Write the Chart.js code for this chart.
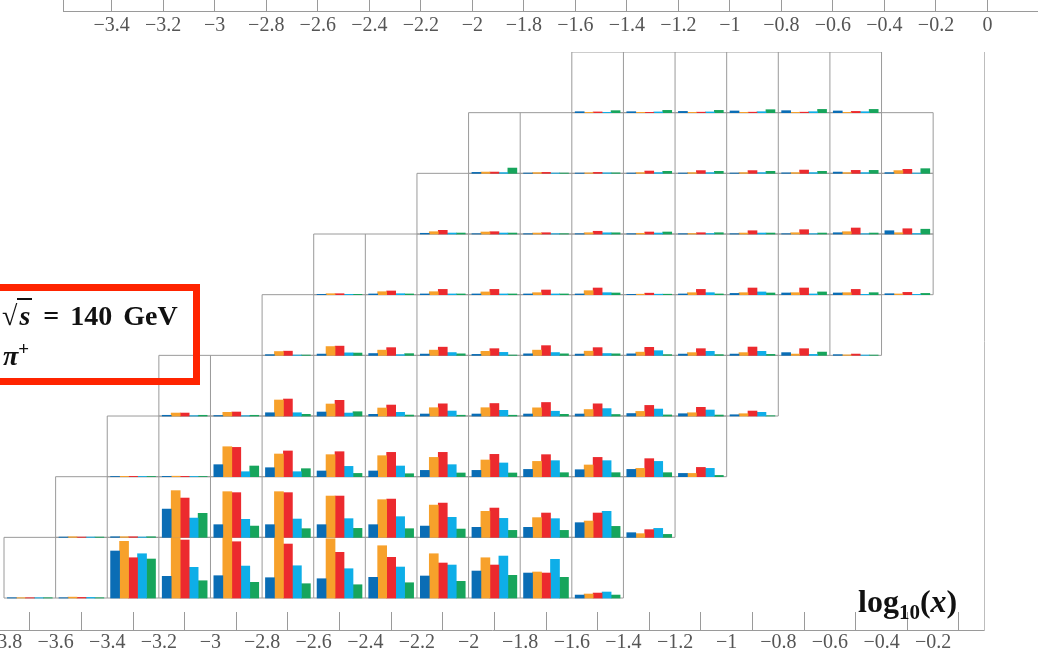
<!DOCTYPE html>
<html>
<head>
<meta charset="utf-8">
<script src="https://cdn.jsdelivr.net/npm/chart.js@4.4.1/dist/chart.umd.min.js"></script>
<style>
  html, body { margin: 0; padding: 0; background: #fff; }
  #wrap { position: relative; width: 1038px; height: 656px; overflow: hidden; }
  #mainChart, #topAxis { position: absolute; left: 0; top: 0; }
  .infoBox {
    position: absolute; left: -12px; top: 284px; width: 198px; height: 87px;
    border: 7px solid #ff2400; font-family: 'Liberation Serif', serif; font-weight: bold; color: #111;
  }
  .infoBox .l1 { position: absolute; left: 7px; top: 9px; font-size: 28px; word-spacing: 4px; white-space: nowrap; }
  .infoBox .l2 { position: absolute; left: 8px; top: 47px; font-size: 28px; white-space: nowrap; }
  .rad { border-top: 2px solid #111; font-style: italic; padding: 0 2px; }
  .axisTitle {
    position: absolute; left: 858px; top: 583px; font-family: 'Liberation Serif', serif;
    font-weight: bold; font-size: 32px; color: #111; white-space: nowrap;
  }
  .axisTitle sub { font-size: 21px; vertical-align: -7px; }
</style>
</head>
<body>
<div id="wrap">
  <canvas id="mainChart" width="1038" height="656"></canvas>
  <canvas id="topAxis" width="1038" height="40"></canvas>
  <div class="infoBox">
    <div class="l1">√<span class="rad">s</span> = 140 GeV</div>
    <div class="l2"><i>π</i><sup style="font-size:19px">+</sup></div>
  </div>
  <div class="axisTitle">log<sub>10</sub>(<i>x</i>)</div>
</div>
<script>
// tick labels
const bottomTicks = [-3.8, -3.6, -3.4, -3.2, -3.0, -2.8, -2.6, -2.4, -2.2, -2.0, -1.8, -1.6, -1.4, -1.2, -1.0, -0.8, -0.6, -0.4, -0.2];
const topTicks = [-3.4, -3.2, -3.0, -2.8, -2.6, -2.4, -2.2, -2.0, -1.8, -1.6, -1.4, -1.2, -1.0, -0.8, -0.6, -0.4, -0.2, 0];

// left edge (log10 x) of the first cell of each row, bottom row first
const rowStarts = [-3.8, -3.6, -3.4, -3.2, -2.8, -2.6, -2.2, -2.0, -1.6];
const cellWidth = 0.2;

const seriesNames = ['blue', 'orange', 'red', 'cyan', 'green'];
const seriesColors = ['#0a6db5', '#f7a12b', '#ec2a2e', '#0eaee8', '#17a55c'];

// each cell: [blue, orange, red, cyan, green], bar height as a fraction of one row
const row1 = [
  [0.005, 0.005, 0.005, 0.005, 0.005],
  [0.005, 0.015, 0.010, 0.010, 0.005],
  [0.775, 0.935, 0.664, 0.730, 0.643],
  [0.358, 0.990, 0.956, 0.506, 0.285],
  [0.368, 1.000, 0.928, 0.527, 0.259],
  [0.335, 1.000, 0.890, 0.532, 0.236],
  [0.318, 0.977, 0.753, 0.483, 0.219],
  [0.341, 0.862, 0.671, 0.511, 0.252],
  [0.363, 0.730, 0.577, 0.544, 0.275],
  [0.445, 0.664, 0.544, 0.692, 0.374],
  [0.412, 0.429, 0.412, 0.638, 0.341],
  [0.049, 0.066, 0.082, 0.099, 0.049]
];
const row2 = [
  [0.005, 0.010, 0.005, 0.005, 0.005],
  [0.010, 0.010, 0.010, 0.005, 0.010],
  [0.466, 0.770, 0.648, 0.318, 0.396],
  [0.209, 0.753, 0.737, 0.297, 0.186],
  [0.209, 0.753, 0.737, 0.302, 0.143],
  [0.209, 0.681, 0.681, 0.308, 0.148],
  [0.209, 0.621, 0.631, 0.341, 0.143],
  [0.186, 0.532, 0.565, 0.330, 0.137],
  [0.165, 0.429, 0.483, 0.313, 0.115],
  [0.165, 0.325, 0.401, 0.308, 0.115],
  [0.242, 0.269, 0.401, 0.429, 0.181],
  [0.077, 0.061, 0.127, 0.148, 0.049]
];
const row3 = [
  [0.003, 0.005, 0.005, 0.003, 0.003],
  [0.005, 0.008, 0.005, 0.003, 0.003],
  [0.198, 0.494, 0.483, 0.082, 0.176],
  [0.148, 0.374, 0.424, 0.082, 0.132],
  [0.094, 0.363, 0.412, 0.170, 0.054],
  [0.094, 0.346, 0.401, 0.176, 0.049],
  [0.104, 0.318, 0.401, 0.198, 0.061],
  [0.104, 0.275, 0.368, 0.226, 0.061],
  [0.120, 0.252, 0.363, 0.264, 0.066],
  [0.115, 0.193, 0.318, 0.264, 0.066],
  [0.120, 0.137, 0.297, 0.252, 0.066],
  [0.054, 0.054, 0.153, 0.137, 0.021]
];
const row4 = [
  [0.012, 0.049, 0.049, 0.005, 0.012],
  [0.008, 0.061, 0.066, 0.005, 0.012],
  [0.054, 0.264, 0.280, 0.054, 0.028],
  [0.066, 0.198, 0.259, 0.049, 0.071],
  [0.028, 0.132, 0.181, 0.061, 0.016],
  [0.033, 0.137, 0.201, 0.082, 0.013],
  [0.033, 0.137, 0.206, 0.094, 0.013],
  [0.033, 0.135, 0.223, 0.079, 0.028],
  [0.033, 0.107, 0.201, 0.122, 0.025],
  [0.041, 0.076, 0.175, 0.115, 0.018],
  [0.038, 0.054, 0.143, 0.099, 0.016],
  [0.021, 0.038, 0.082, 0.061, 0.005]
];
const row5 = [
  [0.012, 0.063, 0.069, 0.005, 0.005],
  [0.021, 0.145, 0.152, 0.041, 0.038],
  [0.030, 0.086, 0.127, 0.012, 0.028],
  [0.021, 0.086, 0.135, 0.046, 0.025],
  [0.016, 0.066, 0.110, 0.049, 0.005],
  [0.025, 0.086, 0.160, 0.046, 0.025],
  [0.021, 0.069, 0.127, 0.030, 0.025],
  [0.025, 0.053, 0.132, 0.077, 0.012],
  [0.021, 0.045, 0.110, 0.066, 0.012],
  [0.021, 0.045, 0.137, 0.066, 0.016],
  [0.045, 0.021, 0.110, 0.016, 0.054],
  [0.012, 0.008, 0.021, 0.005, 0.005]
];
const row6 = [
  [0.005, 0.016, 0.016, 0.005, 0.005],
  [0.012, 0.049, 0.061, 0.016, 0.012],
  [0.012, 0.049, 0.087, 0.012, 0.012],
  [0.012, 0.045, 0.087, 0.012, 0.012],
  [0.012, 0.033, 0.077, 0.012, 0.012],
  [0.012, 0.066, 0.110, 0.033, 0.028],
  [0.005, 0.008, 0.025, 0.008, 0.008],
  [0.012, 0.033, 0.087, 0.033, 0.012],
  [0.021, 0.033, 0.110, 0.045, 0.028],
  [0.028, 0.033, 0.110, 0.012, 0.045],
  [0.028, 0.033, 0.087, 0.005, 0.033],
  [0.016, 0.012, 0.038, 0.005, 0.021]
];
const row7 = [
  [0.012, 0.038, 0.061, 0.016, 0.016],
  [0.005, 0.033, 0.038, 0.016, 0.016],
  [0.005, 0.016, 0.021, 0.005, 0.005],
  [0.005, 0.021, 0.045, 0.020, 0.020],
  [0.005, 0.012, 0.033, 0.016, 0.033],
  [0.005, 0.008, 0.021, 0.008, 0.021],
  [0.005, 0.016, 0.054, 0.016, 0.016],
  [0.005, 0.021, 0.071, 0.005, 0.016],
  [0.021, 0.038, 0.099, 0.005, 0.016],
  [0.054, 0.021, 0.087, 0.008, 0.079]
];
const row8 = [
  [0.016, 0.021, 0.021, 0.012, 0.087],
  [0.005, 0.012, 0.016, 0.005, 0.005],
  [0.005, 0.007, 0.016, 0.008, 0.008],
  [0.005, 0.012, 0.038, 0.012, 0.033],
  [0.005, 0.012, 0.045, 0.012, 0.033],
  [0.005, 0.012, 0.045, 0.012, 0.033],
  [0.008, 0.012, 0.054, 0.012, 0.033],
  [0.021, 0.012, 0.049, 0.012, 0.049],
  [0.012, 0.045, 0.066, 0.005, 0.077]
];
const row9 = [
  [0.016, 0.005, 0.012, 0.005, 0.033],
  [0.016, 0.005, 0.005, 0.012, 0.038],
  [0.021, 0.005, 0.008, 0.012, 0.038],
  [0.028, 0.005, 0.008, 0.016, 0.049],
  [0.033, 0.005, 0.008, 0.016, 0.054],
  [0.028, 0.005, 0.021, 0.016, 0.054]
];
const rows = [row1, row2, row3, row4, row5, row6, row7, row8, row9];

// bar placement inside a cell (in log10 x units)
const barInset = 0.013;
const barStep = 0.0348;

const fmt = v => String(Math.round(v * 10) / 10).replace('-', '\u2212');
const tickFont = { family: 'Liberation Serif', size: 20 };

// no label-driven padding: the first label is cut by the page edge, as in the original
const noLabelPadding = s => { s.paddingLeft = 0; s.paddingRight = 0; };

// cell frames: baseline, top line and separators of every row
const frameSegs = [];
rows.forEach((cells, r) => {
  const left = rowStarts[r];
  const right = left + cellWidth * cells.length;
  frameSegs.push({ x: left, y: r }, { x: right, y: r }, { x: right, y: null });
  frameSegs.push({ x: left, y: r + 1 }, { x: right, y: r + 1 }, { x: right, y: null });
  for (let k = 0; k <= cells.length; k++) {
    const xv = left + cellWidth * k;
    frameSegs.push({ x: xv, y: r }, { x: xv, y: r + 1 }, { x: xv, y: null });
  }
});

const barDatasets = seriesColors.map((col, s) => ({
  type: 'bar',
  label: seriesNames[s],
  backgroundColor: col,
  borderWidth: 0,
  grouped: false,
  barThickness: 9,
  order: 1,
  data: rows.flatMap((cells, r) => cells.map((v, c) => ({
    x: rowStarts[r] + cellWidth * c + barInset + barStep * (s + 0.5),
    y: [r, r + v[s]]
  })))
}));

new Chart(document.getElementById('mainChart'), {
  type: 'bar',
  data: {
    datasets: [
      ...barDatasets,
      {
        type: 'line', label: 'frames', data: frameSegs,
        borderColor: '#9a9a9a', borderWidth: 1, pointRadius: 0,
        spanGaps: false, fill: false, order: 5
      }
    ]
  },
  options: {
    responsive: false,
    animation: false,
    layout: { autoPadding: false, padding: { top: 52, left: 0, right: 0, bottom: 0 } },
    plugins: { legend: { display: false }, tooltip: { enabled: false } },
    scales: {
      x: {
        type: 'linear', position: 'bottom', min: -3.8155, max: -0.003, offset: false,
        afterBuildTicks: s => { s.ticks = bottomTicks.map(v => ({ value: v })); },
        afterFit: s => { s.height = 26; noLabelPadding(s); },
        grid: { drawOnChartArea: false, drawTicks: true, tickLength: -18, color: '#9a9a9a' },
        border: { display: true, color: '#9a9a9a' },
        ticks: { padding: 19, color: '#555', font: tickFont, callback: fmt, maxRotation: 0, autoSkip: false }
      },
      y: {
        type: 'linear', position: 'right', min: -0.527, max: 9,
        afterFit: s => { s.width = 54; },
        grid: { display: false },
        ticks: { display: false },
        border: { display: true, color: '#bdbdbd' }
      }
    }
  }
});

// bottom axis of the plot above (cropped at the top edge)
new Chart(document.getElementById('topAxis'), {
  type: 'line',
  data: { datasets: [] },
  options: {
    responsive: false,
    animation: false,
    layout: { autoPadding: false, padding: 0 },
    plugins: { legend: { display: false }, tooltip: { enabled: false } },
    scales: {
      x: {
        type: 'linear', position: 'bottom', min: -3.589, max: 0.196,
        afterBuildTicks: s => { s.ticks = topTicks.map(v => ({ value: v })); },
        afterFit: s => { s.height = 29; noLabelPadding(s); },
        grid: { drawOnChartArea: true, drawTicks: false, color: '#9a9a9a' },
        border: { display: true, color: '#9a9a9a' },
        ticks: { padding: 3, color: '#555', font: tickFont, callback: fmt, maxRotation: 0, autoSkip: false }
      },
      y: {
        type: 'linear', position: 'left', min: 0, max: 1,
        afterFit: s => { s.width = 63; },
        grid: { display: false },
        ticks: { display: false },
        border: { display: true, color: '#9a9a9a' }
      }
    }
  }
});
</script>
</body>
</html>
